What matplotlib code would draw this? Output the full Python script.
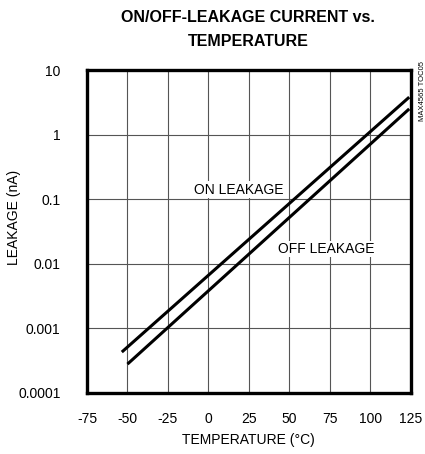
import matplotlib
matplotlib.use("Agg")
import matplotlib.pyplot as plt
import numpy as np

# data (straight lines on log scale)
on_temp = [-53.5, 124.0]
on_leak = [4.3e-4, 3.8]
off_temp = [-50.0, 124.0]
off_leak = [2.8e-4, 2.5]

x_ticks = [-75, -50, -25, 0, 25, 50, 75, 100, 125]
y_ticks = [1e-4, 1e-3, 1e-2, 1e-1, 1, 10]
y_labels = ["0.0001", "0.001", "0.01", "0.1", "1", "10"]

plt.rcParams['font.family'] = ['Liberation Sans', 'DejaVu Sans']


def main():
    fig = plt.figure(figsize=(4.25, 4.54), dpi=100)
    ax = fig.add_axes([0.2047, 0.1344, 0.762, 0.7114])

    ax.plot(on_temp, on_leak, color="black", lw=2.2, solid_capstyle="butt")
    ax.plot(off_temp, off_leak, color="black", lw=2.2, solid_capstyle="butt")

    ax.set_yscale("log")
    ax.set_xlim(-75, 125)
    ax.set_ylim(1e-4, 10)
    ax.set_xticks(x_ticks)
    ax.set_xticklabels([str(t) for t in x_ticks])
    ax.set_yticks(y_ticks)
    ax.set_yticklabels(y_labels)
    ax.yaxis.set_minor_locator(matplotlib.ticker.NullLocator())
    ax.tick_params(axis="both", length=0, labelsize=10)
    ax.tick_params(axis="x", pad=14)
    ax.tick_params(axis="y", pad=19)
    ax.grid(True, color="#555555", lw=0.8)
    ax.set_axisbelow(True)
    for s in ax.spines.values():
        s.set_linewidth(2.4)

    ax.text(-9, 0.14, "ON LEAKAGE", fontsize=10, va="center", ha="left",
            bbox=dict(facecolor="white", edgecolor="none", pad=1))
    ax.text(43, 0.017, "OFF LEAKAGE", fontsize=10, va="center",
            ha="left",
            bbox=dict(facecolor="white", edgecolor="none", pad=1))

    fig.text(0.034, 0.52, "LEAKAGE (nA)", rotation=90, fontsize=10,
             ha="center", va="center")
    fig.text(0.584, 0.031, "TEMPERATURE (\u00b0C)", fontsize=10,
             ha="center", va="center")
    fig.text(0.584, 0.934, "ON/OFF-LEAKAGE CURRENT vs.\nTEMPERATURE",
             fontsize=11.5, fontweight="bold", ha="center", va="center",
             linespacing=1.75)
    fig.text(0.993, 0.866, "MAX4565 TOC05", rotation=90, fontsize=5.5,
             ha="center", va="top")

    fig.savefig("out.png", dpi=100)


if __name__ == "__main__":
    main()
